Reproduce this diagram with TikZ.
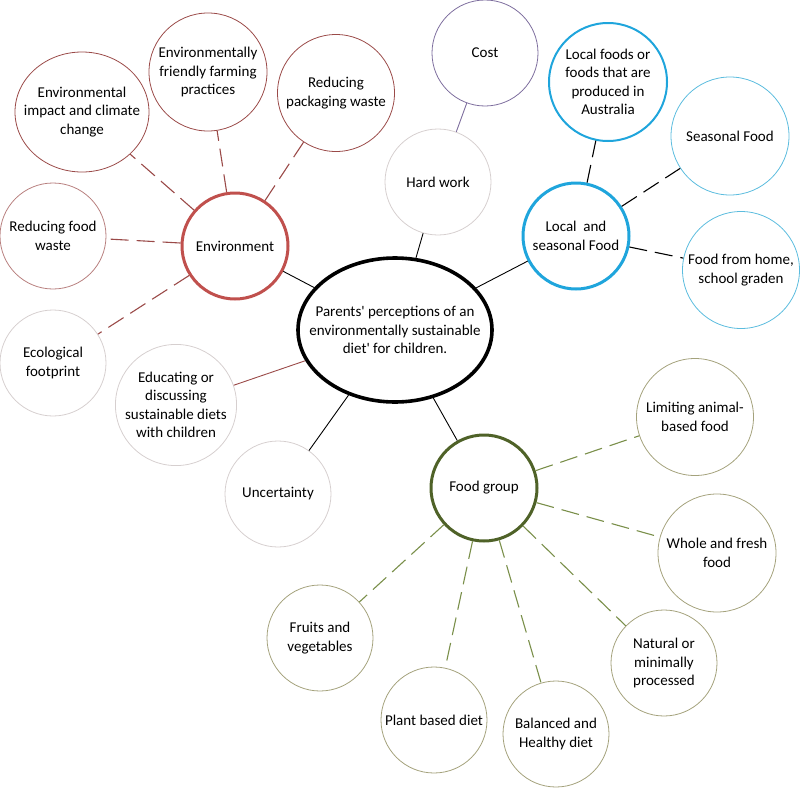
\documentclass[tikz,border=0pt]{standalone}
\usepackage{fontspec}
\setmainfont{Carlito}
\usepackage{xcolor}
\usetikzlibrary{shapes.geometric}

\definecolor{envred}{HTML}{C0504D}
\definecolor{envdark}{HTML}{9A4A48}
\definecolor{locblue}{HTML}{1FA5DC}
\definecolor{loclight}{HTML}{5BBCDE}
\definecolor{foodgreen}{HTML}{4F6228}
\definecolor{foodolive}{HTML}{A4A27C}
\definecolor{foodline}{HTML}{7A8F4A}
\definecolor{costpurple}{HTML}{7E6E9E}
\definecolor{softgray}{HTML}{D6CFCF}

\begin{document}
\begin{tikzpicture}[x=1pt, y=-1pt, font=\fontsize{15}{18.4}\selectfont,
    bubble/.style={circle, draw, line width=0.8pt, minimum size=106pt, inner sep=0pt, align=center},
    theme/.style={bubble, line width=3pt},
    oval/.style={ellipse, draw, inner sep=0pt},
    inside/.style={label={[align=center]center:#1}},
    link/.style={line width=0.9pt},
    dashlink/.style={line width=1.1pt, dash pattern=on 18pt off 8pt}]

    \useasboundingbox (0,0) rectangle (800,787);

    % 1. The main question in the middle
    \node[oval, line width=3.6pt, minimum width=194pt, minimum height=144pt,
          inside={Parents\textquotesingle{} perceptions of an\\environmentally sustainable\\diet\textquotesingle{} for children.}]
        (diet) at (395,330) {};

    % 2. The three main themes
    \node[theme, draw=envred] (env) at (235,246) {Environment};
    \node[theme, draw=locblue] (local) at (576,236) {Local~ and\\seasonal Food};
    \node[theme, draw=foodgreen] (group) at (484,488) {Food group};

    % 3. Single topics round the middle
    \node[bubble, draw=softgray] (hard) at (438,182) {Hard work};
    \node[bubble, draw=costpurple] (cost) at (485,53) {Cost};
    \node[bubble, draw=softgray] (unsure) at (278,494) {Uncertainty};
    \node[bubble, draw=softgray, minimum size=116pt] (teach) at (176,405)
        {Educating or\\discussing\\sustainable diets\\with children};

    % 4. Environment topics
    \node[oval, draw=envdark, line width=0.8pt, minimum width=134pt, minimum height=120pt,
          inside={Environmental\\impact and climate\\change}]
        (climate) at (82,112) {};
    \node[bubble, draw=envdark, minimum size=118pt] (farming) at (208,72)
        {Environmentally\\friendly farming\\practices};
    \node[bubble, draw=envdark, minimum size=117pt] (packaging) at (336,93)
        {Reducing\\packaging waste};
    \node[bubble, draw=envdark!70] (waste) at (53,236) {Reducing food\\waste};
    \node[bubble, draw=softgray] (footprint) at (53,363) {Ecological\\footprint};

    % 5. Local and seasonal topics
    \node[bubble, draw=locblue, line width=2pt, minimum size=118pt] (australia) at (608,82)
        {Local foods or\\foods that are\\produced in\\Australia};
    \node[bubble, draw=loclight, minimum size=118pt] (seasonal) at (730,136) {Seasonal Food};
    \node[bubble, draw=loclight, minimum size=117pt] (garden) at (741,270)
        {Food from home,\\school graden};

    % 6. Food group topics
    \node[bubble, draw=foodolive, minimum size=117pt] (animal) at (695,417)
        {Limiting animal-\\based food};
    \node[bubble, draw=foodolive, minimum size=118pt] (fresh) at (717,553)
        {Whole and fresh\\food};
    \node[bubble, draw=foodolive] (natural) at (664,663) {Natural or\\minimally\\processed};
    \node[bubble, draw=foodolive] (balanced) at (556,734) {Balanced and\\Healthy diet};
    \node[bubble, draw=foodolive] (plant) at (434,720) {Plant based diet};
    \node[bubble, draw=foodolive] (fruits) at (320,638) {Fruits and\\vegetables};

    % 7. Solid links from the middle
    \draw[link] (diet) -- (env);
    \draw[link] (diet) -- (hard);
    \draw[link] (diet) -- (local);
    \draw[link] (diet) -- (group);
    \draw[link] (diet) -- (unsure);
    \draw[link, envdark] (diet) -- (teach);
    \draw[link, costpurple] (hard) -- (cost);

    % 8. Dashed links to the sub-topics
    \foreach \sub in {climate, farming, packaging, waste, footprint}
        \draw[dashlink, envdark] (env) -- (\sub);
    \foreach \sub in {australia, seasonal, garden}
        \draw[dashlink, black] (local) -- (\sub);
    \foreach \sub in {animal, fresh, natural, balanced, plant, fruits}
        \draw[dashlink, foodline] (group) -- (\sub);

\end{tikzpicture}
\end{document}
